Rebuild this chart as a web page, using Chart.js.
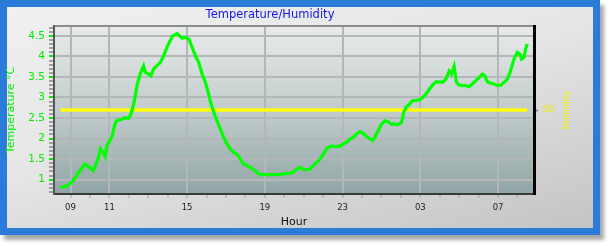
<!DOCTYPE html>
<html><head><meta charset="utf-8">
<script src="https://cdn.jsdelivr.net/npm/chart.js@4.4.1/dist/chart.umd.min.js"></script>
<style>
html,body{margin:0;padding:0;background:#ffffff;width:611px;height:246px;overflow:hidden}
#frame{position:absolute;left:0;top:0;width:600px;height:235px;box-sizing:border-box;border:7px solid #2b7bd9;
 background:linear-gradient(165deg,#f0f0f0 0%,#e6e6e6 45%,#c4c4c4 100%);box-shadow:4px 5px 4px rgba(0,0,0,0.35)}
#c{position:absolute;left:0;top:0}
</style></head>
<body>
<div id="frame"></div>
<canvas id="c" width="611" height="246"></canvas>
<script>
// ---- data (hours since midnight of first day; 27 = 03, 31 = 07) ----
const hours = [8.49,8.83,9.09,9.26,9.43,9.60,9.72,9.85,10.03,10.16,10.28,10.42,10.54,10.68,10.79,10.88,11.02,11.15,11.26,11.36,11.48,11.65,11.82,11.99,12.11,12.25,12.33,12.42,12.56,12.68,12.76,12.85,13.02,13.14,13.27,13.44,13.62,13.79,13.96,14.13,14.26,14.49,14.74,14.91,15.09,15.26,15.43,15.60,15.77,15.94,16.11,16.23,16.37,16.54,16.71,16.88,17.05,17.22,17.39,17.56,17.74,17.91,18.08,18.25,18.42,18.59,18.76,19.10,19.44,19.79,20.13,20.38,20.47,20.64,20.81,20.98,21.15,21.32,21.50,21.67,21.84,22.01,22.18,22.35,22.52,22.69,22.86,23.03,23.21,23.38,23.55,23.72,23.89,24.06,24.23,24.40,24.54,24.66,24.83,25.00,25.17,25.34,25.51,25.68,25.85,26.03,26.15,26.28,26.45,26.59,26.95,27.12,27.29,27.46,27.63,27.80,27.97,28.15,28.32,28.49,28.61,28.74,28.86,29.00,29.17,29.34,29.51,29.68,29.85,30.03,30.20,30.32,30.45,30.62,30.79,30.97,31.14,31.31,31.48,31.62,31.74,31.85,31.99,32.13,32.21,32.33,32.42,32.50];
const temperature = [0.80,0.85,0.95,1.06,1.18,1.28,1.38,1.34,1.28,1.22,1.34,1.50,1.75,1.66,1.56,1.83,1.95,2.07,2.31,2.43,2.45,2.47,2.51,2.49,2.60,2.84,3.04,3.29,3.53,3.69,3.77,3.61,3.57,3.53,3.69,3.77,3.85,4.01,4.22,4.38,4.50,4.56,4.44,4.46,4.42,4.22,4.01,3.85,3.57,3.37,3.08,2.84,2.64,2.43,2.23,2.03,1.87,1.75,1.66,1.62,1.50,1.38,1.34,1.30,1.24,1.18,1.12,1.12,1.12,1.13,1.15,1.16,1.18,1.26,1.30,1.24,1.24,1.26,1.34,1.42,1.50,1.62,1.75,1.81,1.81,1.81,1.81,1.87,1.91,1.99,2.03,2.11,2.17,2.13,2.05,2.00,1.95,2.03,2.19,2.35,2.43,2.41,2.35,2.35,2.34,2.39,2.64,2.77,2.84,2.92,2.94,3.00,3.08,3.20,3.30,3.38,3.38,3.37,3.45,3.65,3.57,3.76,3.37,3.30,3.29,3.29,3.26,3.33,3.41,3.49,3.57,3.53,3.38,3.35,3.33,3.29,3.30,3.37,3.45,3.61,3.81,3.97,4.10,4.06,3.93,3.97,4.18,4.30];
const humidityHours = [8.49, 32.50];
const humidity = [50, 50];
const labeledHours = [9, 11, 15, 19, 23, 27, 31];
const hourTicks = [9,10,11,12,13,14,15,16,17,18,19,20,21,22,23,24,25,26,27,28,29,30,31,32];
const tempMajorTicks = [1, 1.5, 2, 2.5, 3, 3.5, 4, 4.5];
const tempMinorTicks = [0.7,0.8,0.9,1.1,1.2,1.3,1.4,1.6,1.7,1.8,1.9,2.1,2.2,2.3,2.4,2.6,2.7,2.8,2.9,3.1,3.2,3.3,3.4,3.6,3.7,3.8,3.9,4.1,4.2,4.3,4.4,4.6,4.7];
const humidityTicks = [50];

const X_MIN = 8.15, X_MAX = 32.85, Y_MIN = 0.65, Y_MAX = 4.74;
const tempPts = hours.map((h, i) => ({x: h, y: temperature[i]}));
const humPts = humidityHours.map((h, i) => ({x: h, y: humidity[i]}));
const isMajor = v => tempMajorTicks.some(m => Math.abs(m - v) < 1e-6);
const FONT = 'DejaVu Sans';
const NONE = 'rgba(0,0,0,0)';

const plotBg = {
  id: 'plotBg',
  beforeDraw(chart) {
    const {ctx, chartArea: a} = chart;
    const g = ctx.createLinearGradient(0, a.top, 0, a.bottom);
    g.addColorStop(0, '#e9ebeb');
    g.addColorStop(0.5, '#c2cbcb');
    g.addColorStop(1, '#91a5a6');
    ctx.save();
    ctx.fillStyle = g;
    ctx.fillRect(a.left, a.top, a.right - a.left, a.bottom - a.top);
    ctx.restore();
  }
};
const extraText = {
  id: 'extraText',
  afterDraw(chart) {
    const {ctx} = chart;
    ctx.save();
    ctx.font = '11.5px "' + FONT + '"';
    ctx.fillStyle = '#1414f0';
    ctx.textAlign = 'center';
    ctx.textBaseline = 'middle';
    ctx.fillText('Temperature/Humidity', 270, 15.5);
    ctx.translate(567, 110);
    ctx.rotate(-Math.PI / 2);
    ctx.font = '8.5px "' + FONT + '"';
    ctx.fillStyle = '#f2f200';
    ctx.fillText('Humidity', 0, 0);
    ctx.restore();
  }
};

new Chart(document.getElementById('c'), {
  type: 'line',
  data: {
    datasets: [
      {label: 'Temperature', data: tempPts, borderColor: '#00ff00', borderWidth: 3.2, pointRadius: 0, tension: 0, yAxisID: 'y', order: 0},
      {label: 'Humidity', data: humPts, borderColor: '#ffff00', borderWidth: 3.5, pointRadius: 0, tension: 0, yAxisID: 'y2', order: 1}
    ]
  },
  options: {
    responsive: false,
    devicePixelRatio: 1,
    animation: false,
    events: [],
    layout: {padding: {top: 26, left: 0, right: 0, bottom: 0}},
    plugins: {legend: {display: false}, tooltip: {enabled: false}, title: {display: false}},
    scales: {
      x: {
        type: 'linear', position: 'bottom', min: X_MIN, max: X_MAX,
        afterFit: s => { s.height = 52; },
        afterBuildTicks: s => { s.ticks = hourTicks.map(v => ({value: v})); },
        ticks: {
          autoSkip: false, maxRotation: 0, padding: 5,
          color: '#222', font: {family: FONT, size: 8.5},
          callback: v => labeledHours.includes(v) ? String(v % 24).padStart(2, '0') : ''
        },
        grid: {
          color: c => labeledHours.includes(c.tick && c.tick.value) ? '#b4b7b7' : NONE,
          lineWidth: 2,
          tickColor: '#a0a0a0',
          tickLength: 4, tickWidth: 1
        },
        border: {color: '#3a3a3a', width: 2},
        title: {display: true, text: 'Hour', color: '#1a1010', font: {family: FONT, size: 11}, padding: {top: 0, bottom: 17.4}}
      },
      y: {
        type: 'linear', position: 'left', min: Y_MIN, max: Y_MAX,
        afterFit: s => { s.width = 54; },
        afterBuildTicks: s => {
          s.ticks = tempMinorTicks.concat(tempMajorTicks).sort((a, b) => a - b).concat([Y_MAX]).map(v => ({value: v}));
        },
        ticks: {
          autoSkip: false, padding: 4,
          color: '#00ee00', font: {family: FONT, size: 10.5},
          callback: v => isMajor(v) ? String(v) : ''
        },
        grid: {
          color: c => {
            const v = c.tick && c.tick.value;
            if (v === undefined) return NONE;
            if (v === Y_MAX) return '#8c8c8c';
            return isMajor(v) ? '#b4b7b7' : NONE;
          },
          lineWidth: 2,
          tickColor: c => {
            const v = c.tick && c.tick.value;
            if (v === undefined || v === Y_MAX) return NONE;
            return isMajor(v) ? '#00ee00' : '#a0a0a0';
          },
          tickLength: 5, tickWidth: 2
        },
        border: {color: '#555', width: 2},
        title: {display: true, text: 'Temperature °C', color: '#00ee00', font: {family: FONT, size: 11}, padding: {top: 4.4, bottom: 0}}
      },
      y2: {
        type: 'linear', position: 'right', min: 0, max: 100,
        afterFit: s => { s.width = 77; },
        afterBuildTicks: s => { s.ticks = humidityTicks.map(v => ({value: v})); },
        ticks: {padding: 4.5, color: '#eeee00', font: {family: FONT, size: 9.5}, callback: v => String(v)},
        grid: {drawOnChartArea: false, tickColor: '#8a8a8a', tickLength: 4, tickWidth: 2},
        border: {color: '#000', width: 3}
      }
    }
  },
  plugins: [plotBg, extraText]
});
</script>
</body></html>
